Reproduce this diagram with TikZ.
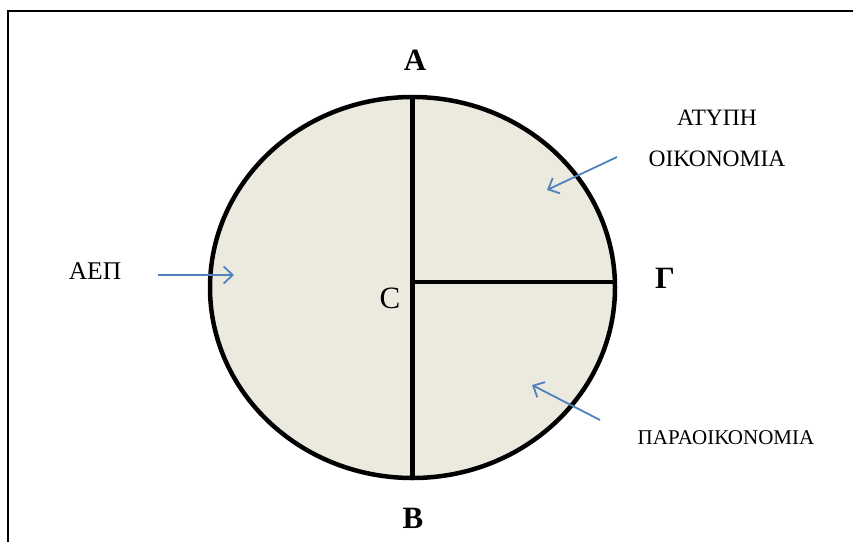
\documentclass[tikz,border=0pt]{standalone}
\usepackage{fontspec}
\setmainfont{Liberation Serif}
\usetikzlibrary{shapes.geometric, arrows.meta}
\definecolor{diskfill}{HTML}{ECEADF}
\definecolor{pointerblue}{HTML}{4F81BD}
\tikzset{
  disk/.style        = {ellipse, draw=black, line width=4.5pt, fill=diskfill, inner sep=0pt,
                        minimum width=405pt, minimum height=381pt},
  divider/.style     = {line width=4.5pt, draw=black},
  pointlabel/.style  = {font=\fontsize{31}{36}\selectfont\bfseries, inner sep=0pt},
  centrelabel/.style = {font=\fontsize{31}{36}\selectfont, inner sep=0pt},
  sectorlabel/.style = {font=\fontsize{23.5}{41}\selectfont, align=center, inner sep=0pt},
  pointer/.style     = {line width=1.8pt, draw=pointerblue, -{Straight Barb[length=9pt, width=17pt]}},
  frameline/.style   = {line width=2pt, draw=black},
}

\begin{document}
\begin{tikzpicture}[x=1pt, y=-1pt]
\useasboundingbox (0,0) rectangle (853,541);

% =============== FRAME ===============
\draw[frameline] (8,548) |- (860,11);

% =============== DISK AND RADII ===============
\node (disk) [disk] at (412.5,287.5) {};
\coordinate (hub) at (412.5,282);
\draw[divider] (disk.north) -- (disk.south);
\draw[divider] (hub) -- (hub -| disk.east);

% =============== POINT LABELS ===============
\node (ptA)  [pointlabel]  at (415,60)  {A};
\node (ptB)  [pointlabel]  at (413,518) {B};
\node (ptG)  [pointlabel]  at (665,278) {Γ};
\node (ptC)  [centrelabel] at (390,298) {C};

% =============== SECTOR LABELS ===============
\node (aep)    [sectorlabel, font=\fontsize{25.5}{30}\selectfont] at (95,271) {ΑΕΠ};
\node (atypi)  [sectorlabel] at (717,138) {ΑΤΥΠΗ\\ΟΙΚΟΝΟΜΙΑ};
\node (parao)  [sectorlabel, font=\fontsize{21}{25}\selectfont] at (726,438) {ΠΑΡΑΟΙΚΟΝΟΜΙΑ};

% pointers into the disk
\coordinate (aepFrom)   at (158,275);
\coordinate (aepTo)     at (234,275);
\coordinate (atypiFrom) at (617,157);
\coordinate (atypiTo)   at (547,190);
\coordinate (paraoFrom) at (600,420);
\coordinate (paraoTo)   at (532,385);
\draw[pointer] (aepFrom) -- (aepTo);
\draw[pointer] (atypiFrom) -- (atypiTo);
\draw[pointer] (paraoFrom) -- (paraoTo);

\end{tikzpicture}
\end{document}
